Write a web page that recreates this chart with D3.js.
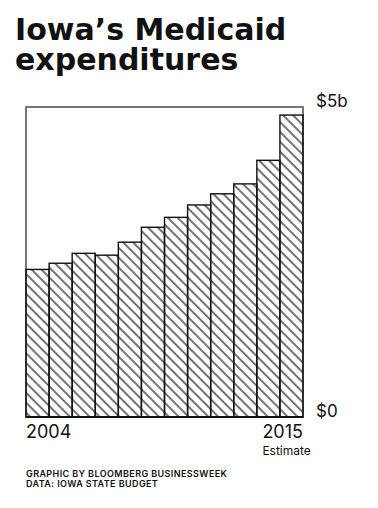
<!DOCTYPE html>
<html>
<head>
<meta charset="utf-8">
<script src="https://cdn.jsdelivr.net/npm/d3@7"></script>
<style>
  body { margin: 0; background: #fff; }
  text { font-family: Inter, "Liberation Sans", sans-serif; fill: #111; }
  .title { font-family: "DejaVu Sans", Inter, sans-serif; }
</style>
</head>
<body>
<div id="wrapper"></div>
<script>
// Data (billions of dollars)
const years = [2004, 2005, 2006, 2007, 2008, 2009, 2010, 2011, 2012, 2013, 2014, 2015]
const spending = [2.38, 2.48, 2.64, 2.61, 2.82, 3.06, 3.22, 3.42, 3.60, 3.76, 4.14, 4.87]
const yTicks = [0, 5]
const yTickLabels = ["$0", "$5b"]
const xTickYears = [2004, 2015]
const titleLines = ["Iowa’s Medicaid", "expenditures"]
const sourceLines = ["GRAPHIC BY BLOOMBERG BUSINESSWEEK", "DATA: IOWA STATE BUDGET"]

function drawChart() {
  const dimensions = {
    width: 378,
    height: 508,
    margin: { top: 107, right: 75, bottom: 91, left: 26 },
  }
  dimensions.boundedWidth = dimensions.width - dimensions.margin.left - dimensions.margin.right
  dimensions.boundedHeight = dimensions.height - dimensions.margin.top - dimensions.margin.bottom

  const svg = d3.select("#wrapper")
    .append("svg")
      .attr("width", dimensions.width)
      .attr("height", dimensions.height)

  // hatch fill, lines running top-left to bottom-right
  const defs = svg.append("defs")
  defs.append("pattern")
      .attr("id", "hatch")
      .attr("patternUnits", "userSpaceOnUse")
      .attr("width", 7)
      .attr("height", 10)
      .attr("patternTransform", "rotate(-45)")
    .append("line")
      .attr("x1", 1).attr("y1", 0)
      .attr("x2", 1).attr("y2", 10)
      .attr("stroke", "#000")
      .attr("stroke-width", 1.1)

  // title
  svg.append("g")
    .selectAll("text")
    .data(titleLines)
    .join("text")
      .attr("class", "title")
      .attr("x", 15)
      .attr("y", (d, i) => 40 + i * 30)
      .style("font-size", "30px")
      .style("font-weight", 700)
      .text(d => d)

  const bounds = svg.append("g")
      .attr("transform", `translate(${dimensions.margin.left},${dimensions.margin.top})`)

  const xScale = d3.scaleBand()
      .domain(years)
      .range([0, dimensions.boundedWidth])
      .padding(0)

  const yScale = d3.scaleLinear()
      .domain([0, 5])
      .range([dimensions.boundedHeight, 0])

  // frame
  bounds.append("rect")
      .attr("width", dimensions.boundedWidth)
      .attr("height", dimensions.boundedHeight)
      .attr("fill", "none")
      .attr("stroke", "#555")
      .attr("stroke-width", 1.6)

  // bars
  bounds.selectAll(".bar")
    .data(spending)
    .join("rect")
      .attr("class", "bar")
      .attr("x", (d, i) => xScale(years[i]))
      .attr("width", xScale.bandwidth())
      .attr("y", d => yScale(d))
      .attr("height", d => dimensions.boundedHeight - yScale(d))
      .attr("fill", "url(#hatch)")
      .attr("stroke", "#111")
      .attr("stroke-width", 1.4)

  // baseline
  bounds.append("line")
      .attr("x1", 0)
      .attr("x2", dimensions.boundedWidth)
      .attr("y1", yScale(0))
      .attr("y2", yScale(0))
      .attr("stroke", "#111")
      .attr("stroke-width", 2)

  // y labels on the right
  bounds.selectAll(".y-label")
    .data(yTicks)
    .join("text")
      .attr("class", "y-label")
      .attr("x", dimensions.boundedWidth + 13)
      .attr("y", d => yScale(d))
      .style("font-size", "17px")
      .text((d, i) => yTickLabels[i])

  // x labels
  const xLabels = bounds.selectAll(".x-label")
    .data(xTickYears)
    .join("text")
      .attr("class", "x-label")
      .attr("x", (d, i) => i == 0 ? xScale(d) : xScale(d) + xScale.bandwidth())
      .attr("y", dimensions.boundedHeight + 21)
      .attr("text-anchor", (d, i) => i == 0 ? "start" : "end")
      .style("font-size", "18px")
      .text(d => d)

  // "Estimate" sits under the last year label, left-aligned with it
  const lastLabelBox = xLabels.filter((d, i) => i == 1).node().getBBox()
  bounds.append("text")
      .attr("x", lastLabelBox.x)
      .attr("y", dimensions.boundedHeight + 38)
      .style("font-size", "12px")
      .text("Estimate")

  // source
  svg.append("g")
    .selectAll("text")
    .data(sourceLines)
    .join("text")
      .attr("x", 26)
      .attr("y", (d, i) => 477 + i * 10)
      .style("font-size", "9px")
      .style("font-weight", 600)
      .style("letter-spacing", "0.4px")
      .text(d => d)
}
drawChart()
</script>
</body>
</html>
